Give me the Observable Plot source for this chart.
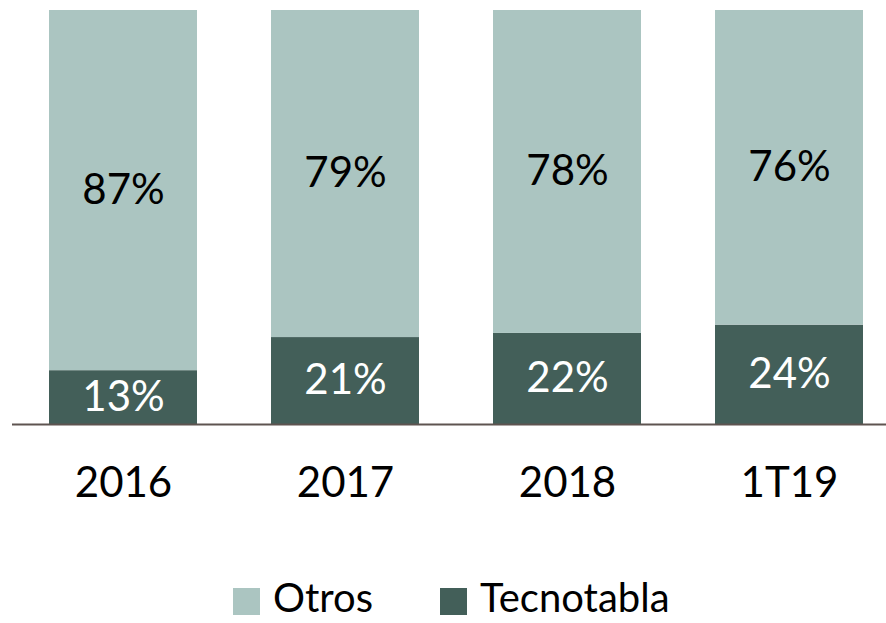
<!DOCTYPE html>
<html>
<head>
<meta charset="utf-8">
<script src="https://cdn.jsdelivr.net/npm/d3@7"></script>
<script src="https://cdn.jsdelivr.net/npm/@observablehq/plot@0.6"></script>
<style>
  html, body { margin: 0; padding: 0; background: #fff; overflow: hidden; }
  #wrap { position: relative; width: 886px; height: 623px; font-family: Lato, "Open Sans", sans-serif; }
  .sw { position: absolute; width: 27px; height: 27px; top: 588px; }
  .lt { position: absolute; top: 577px; font-size: 40px; line-height: 40px; color: #000; white-space: nowrap; }
</style>
</head>
<body>
<div id="wrap"><div id="chart"></div><div id="legend"></div></div>
<script>
const categories = ["2016", "2017", "2018", "1T19"];
const tecnotabla = [13, 21, 22, 24];
const otros = [87, 79, 78, 76];
const legendOrder = ["Otros", "Tecnotabla"];
const colors = { "Tecnotabla": "#435f59", "Otros": "#abc5c1" };

const rows = [];
categories.forEach((c, i) => {
  rows.push({ cat: c, series: "Tecnotabla", value: tecnotabla[i], order: 0 });
  rows.push({ cat: c, series: "Otros", value: otros[i], order: 1 });
});

const H = 540;
const chart = Plot.plot({
  width: 886,
  height: H,
  marginTop: 10,
  marginBottom: H - 424,
  marginLeft: 12,
  marginRight: 0,
  style: { fontFamily: "Lato, 'Open Sans', sans-serif", background: "#fff", overflow: "visible" },
  x: { domain: categories, range: [12, 900], paddingInner: 1 / 3, paddingOuter: 1 / 6, label: null },
  y: { domain: [0, 100], axis: null },
  marks: [
    Plot.barY(rows, Plot.stackY({
      x: "cat", y: "value", order: "order",
      fill: d => colors[d.series]
    })),
    Plot.text(rows, Plot.stackY({
      x: "cat", y: "value", order: "order",
      text: d => d.value + "%",
      fill: d => d.series === "Tecnotabla" ? "#fff" : "#000",
      fontSize: 42
    })),
    Plot.ruleY([0], { stroke: "#5e5450", strokeWidth: 2 }),
    Plot.axisX({ tickSize: 0, tickPadding: 43, fontSize: 42, fill: "#000", label: null })
  ]
});
document.getElementById("chart").appendChild(chart);

const legend = document.getElementById("legend");
const legendX = [233, 440];
legendOrder.forEach((s, i) => {
  const sw = document.createElement("div");
  sw.className = "sw";
  sw.style.left = legendX[i] + "px";
  sw.style.background = colors[s];
  const t = document.createElement("div");
  t.className = "lt";
  t.style.left = (legendX[i] + 40) + "px";
  t.textContent = s;
  legend.appendChild(sw); legend.appendChild(t);
});
</script>
</body>
</html>
